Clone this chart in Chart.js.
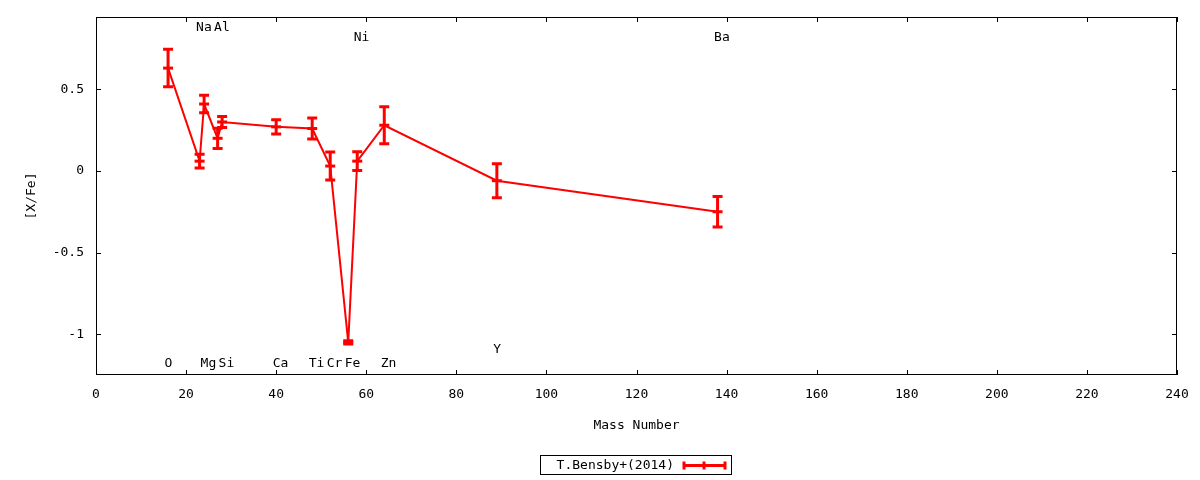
<!DOCTYPE html>
<html>
<head>
<meta charset="utf-8">
<script src="https://cdn.jsdelivr.net/npm/chart.js@4"></script>
<style>
  html, body { margin: 0; padding: 0; background: #fff; }
  #wrap { width: 1200px; height: 480px; }
</style>
</head>
<body>
<div id="wrap"><canvas id="myChart" width="1200" height="480"></canvas></div>
<script>
// abundances
var elements = ['O', 'Na', 'Mg', 'Al', 'Si', 'Ca', 'Ti', 'Cr', 'Fe', 'Ni', 'Zn', 'Y', 'Ba'];
var massNumbers = [16, 23, 24, 27, 28, 40, 48, 52, 56, 58, 64, 89, 138];
var xFe = [0.63, 0.06, 0.41, 0.20, 0.30, 0.27, 0.26, 0.03, -1.05, 0.06, 0.28, -0.06, -0.25];
var xFeErr = [0.115, 0.042, 0.054, 0.062, 0.034, 0.044, 0.065, 0.086, 0.01, 0.058, 0.113, 0.104, 0.094];
// where the element names sit (y in [X/Fe] units)
var labelY = [-1.18, 0.876, -1.18, 0.876, -1.18, -1.18, -1.18, -1.18, -1.18, 0.814, -1.18, -1.096, 0.814];

var xTicks = [0, 20, 40, 60, 80, 100, 120, 140, 160, 180, 200, 220, 240];
var yTicks = [-1, -0.5, 0, 0.5];

var seriesName = 'T.Bensby+(2014)';
var RED = '#ff0000';
var FONT = 'DejaVu Sans Mono';

var points = massNumbers.map(function (m, i) { return { x: m, y: xFe[i] }; });

// error bars, frame, inward ticks, element names, boxed key
var extras = {
    id: 'extras',
    afterDatasetsDraw: function (chart) {
        var ctx = chart.ctx;
        var xs = chart.scales.x, ys = chart.scales.y;
        ctx.save();
        ctx.strokeStyle = RED;
        ctx.lineWidth = 3;
        ctx.lineCap = 'butt';
        for (var i = 0; i < massNumbers.length; i++) {
            var px = xs.getPixelForValue(massNumbers[i]);
            var top = ys.getPixelForValue(xFe[i] + xFeErr[i]);
            var bot = ys.getPixelForValue(xFe[i] - xFeErr[i]);
            ctx.beginPath();
            ctx.moveTo(px, top); ctx.lineTo(px, bot);
            ctx.moveTo(px - 5, top); ctx.lineTo(px + 5, top);
            ctx.moveTo(px - 5, bot); ctx.lineTo(px + 5, bot);
            ctx.stroke();
        }
        ctx.restore();
    },
    afterDraw: function (chart) {
        var ctx = chart.ctx;
        var a = chart.chartArea;
        var xs = chart.scales.x, ys = chart.scales.y;
        ctx.save();
        ctx.strokeStyle = '#000';
        ctx.lineWidth = 1;
        ctx.strokeRect(Math.round(a.left) + 0.5, Math.round(a.top) + 0.5,
            Math.round(a.right - a.left) - 1, Math.round(a.bottom - a.top) - 1);
        ctx.beginPath();
        xTicks.forEach(function (v) {
            var p = Math.round(xs.getPixelForValue(v)) + 0.5;
            ctx.moveTo(p, a.bottom); ctx.lineTo(p, a.bottom - 5);
            ctx.moveTo(p, a.top); ctx.lineTo(p, a.top + 5);
        });
        yTicks.forEach(function (v) {
            var p = Math.round(ys.getPixelForValue(v)) + 0.5;
            ctx.moveTo(a.left, p); ctx.lineTo(a.left + 5, p);
            ctx.moveTo(a.right, p); ctx.lineTo(a.right - 5, p);
        });
        ctx.stroke();

        // element names
        ctx.fillStyle = '#000';
        ctx.font = '13px "' + FONT + '"';
        ctx.textAlign = 'left';
        ctx.textBaseline = 'middle';
        for (var i = 0; i < elements.length; i++) {
            ctx.fillText(elements[i], xs.getPixelForValue(massNumbers[i]) - 3.5, ys.getPixelForValue(labelY[i]));
        }

        // key box
        ctx.strokeRect(540.5, 455.5, 191, 19);
        ctx.textAlign = 'right';
        ctx.fillText(seriesName, 674, 465.5);
        ctx.strokeStyle = RED;
        ctx.lineWidth = 3;
        ctx.beginPath();
        ctx.moveTo(683, 465.5); ctx.lineTo(726, 465.5);
        ctx.moveTo(684, 461.5); ctx.lineTo(684, 469.5);
        ctx.moveTo(704, 461.5); ctx.lineTo(704, 469.5);
        ctx.moveTo(725, 461.5); ctx.lineTo(725, 469.5);
        ctx.stroke();
        ctx.restore();
    }
};

var ctx = document.getElementById('myChart');

var myChart = new Chart(ctx, {
    type: 'line',
    data: {
        datasets: [{
            label: seriesName,
            data: points,
            borderColor: RED,
            backgroundColor: RED,
            borderWidth: 2,
            pointStyle: 'line',
            pointRadius: 5,
            pointBorderWidth: 3,
            pointHoverRadius: 5,
            tension: 0,
            fill: false
        }]
    },
    options: {
        responsive: false,
        animation: false,
        devicePixelRatio: 1,
        layout: { padding: { left: 0, top: 17, right: 23, bottom: 40 } },
        plugins: {
            legend: { display: false },
            tooltip: { enabled: false }
        },
        scales: {
            x: {
                type: 'linear',
                min: 0,
                max: 240,
                afterBuildTicks: function (s) { s.ticks = xTicks.map(function (v) { return { value: v }; }); },
                afterFit: function (s) { s.height = 65; s.paddingLeft = 0; s.paddingRight = 0; },
                grid: { display: false, drawTicks: false },
                border: { display: false },
                ticks: {
                    color: '#000',
                    padding: 12,
                    maxRotation: 0,
                    font: { family: FONT, size: 13 }
                },
                title: {
                    display: true,
                    text: 'Mass Number',
                    color: '#000',
                    padding: { top: 4, bottom: 7 },
                    font: { family: FONT, size: 13 }
                }
            },
            y: {
                type: 'linear',
                min: -1.25,
                max: 0.943,
                afterBuildTicks: function (s) { s.ticks = yTicks.map(function (v) { return { value: v }; }); },
                afterFit: function (s) { s.width = 96; s.paddingTop = 0; s.paddingBottom = 0; },
                grid: { display: false, drawTicks: false },
                border: { display: false },
                ticks: {
                    color: '#000',
                    padding: 12,
                    font: { family: FONT, size: 13 },
                    callback: function (v) { return String(v); }
                },
                title: {
                    display: true,
                    text: '[X/Fe]',
                    color: '#000',
                    padding: { top: 24, bottom: 0 },
                    font: { family: FONT, size: 13 }
                }
            }
        }
    },
    plugins: [extras]
});
</script>
</body>
</html>
